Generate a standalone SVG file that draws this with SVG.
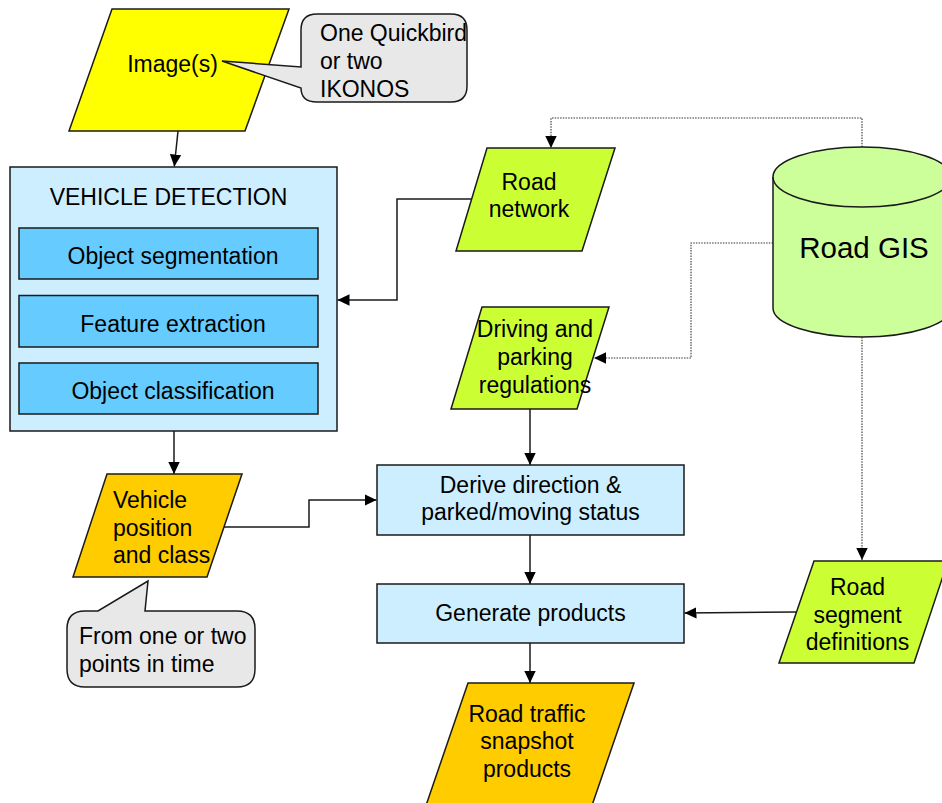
<svg xmlns="http://www.w3.org/2000/svg" width="942" height="803" viewBox="0 0 942 803">
  <style>
    .shape { stroke: #1a1a1a; stroke-width: 1.5; }
    .txt { font-family: "Liberation Sans", Arial, sans-serif; font-size: 23px; fill: #000; }
    .mid { text-anchor: middle; }
    .wire { fill: none; stroke: #1a1a1a; stroke-width: 1.5; }
    .dot { fill: none; stroke: #333; stroke-width: 1.1; stroke-dasharray: 1.5 1.2; }
    .yellow { fill: #ffff00; }
    .pale { fill: #cceeff; }
    .blue { fill: #66ccff; }
    .orange { fill: #ffcc00; }
    .lime { fill: #ccff33; }
    .gis { fill: #ccff99; }
    .note { fill: #e8e8e8; }
  </style>
  <defs>
    <marker id="arrow" viewBox="0 0 12 12" markerUnits="userSpaceOnUse" markerWidth="12" markerHeight="12" refX="12" refY="6" orient="auto">
      <path d="M0,0.3 L12,6 L0,11.7 Z" fill="#000"/>
    </marker>
  </defs>

  <rect width="942" height="803" fill="#ffffff"/>

  <!-- connectors -->
  <g id="connectors">
    <line class="wire" x1="178" y1="131" x2="174.3" y2="166.5" marker-end="url(#arrow)"/>
    <polyline class="wire" points="471,199 397,199 397,300 337.5,300" marker-end="url(#arrow)"/>
    <line class="wire" x1="174" y1="431" x2="174" y2="474" marker-end="url(#arrow)"/>
    <polyline class="wire" points="224,527 309,527 309,500 376.5,500" marker-end="url(#arrow)"/>
    <line class="wire" x1="530" y1="409" x2="530" y2="465" marker-end="url(#arrow)"/>
    <line class="wire" x1="530" y1="535" x2="530" y2="584" marker-end="url(#arrow)"/>
    <line class="wire" x1="530" y1="643" x2="530" y2="683" marker-end="url(#arrow)"/>
    <line class="wire" x1="796" y1="612" x2="684.5" y2="613" marker-end="url(#arrow)"/>
    <polyline class="dot" points="862,147 862,118 551,118 551,148" marker-end="url(#arrow)"/>
    <polyline class="dot" points="773,243 691,243 691,358 594,358" marker-end="url(#arrow)"/>
    <line class="dot" x1="862" y1="337" x2="862" y2="560" marker-end="url(#arrow)"/>
  </g>

  <!-- input imagery -->
  <g id="images">
    <polygon class="shape yellow" points="112,9 289,9 245,131 69,131"/>
    <text class="txt mid" x="172.5" y="72">Image(s)</text>
  </g>

  <g id="note-sensors">
    <path class="shape note" d="M317,14 H451 Q467,14 467,30 V86 Q467,102 451,102 H317 Q301,102 301,88 L222,61 L301,67 V30 Q301,14 317,14 Z"/>
    <text class="txt" x="320" y="41">One Quickbird</text>
    <text class="txt" x="320" y="69">or two</text>
    <text class="txt" x="320" y="97">IKONOS</text>
  </g>

  <!-- detection stage -->
  <g id="vehicle-detection">
    <rect class="shape pale" x="10" y="167" width="327" height="264"/>
    <text class="txt mid" x="168.5" y="205">VEHICLE DETECTION</text>
  </g>
  <g id="object-segmentation">
    <rect class="shape blue" x="19" y="228" width="299" height="51"/>
    <text class="txt mid" x="173" y="264">Object segmentation</text>
  </g>
  <g id="feature-extraction">
    <rect class="shape blue" x="19" y="295.5" width="299" height="51.5"/>
    <text class="txt mid" x="173" y="332">Feature extraction</text>
  </g>
  <g id="object-classification">
    <rect class="shape blue" x="19" y="363" width="299" height="51"/>
    <text class="txt mid" x="173" y="399">Object classification</text>
  </g>

  <g id="vehicle-position">
    <polygon class="shape orange" points="107,474 242,474 207,577 73,577"/>
    <text class="txt" x="113" y="508">Vehicle</text>
    <text class="txt" x="113" y="536">position</text>
    <text class="txt" x="113" y="563">and class</text>
  </g>

  <g id="note-times">
    <path class="shape note" d="M85,611 H98 L148,581 L145,611 H237 Q255,611 255,629 V669 Q255,687 237,687 H85 Q67,687 67,669 V629 Q67,611 85,611 Z"/>
    <text class="txt" x="79" y="644">From one or two</text>
    <text class="txt" x="79" y="672">points in time</text>
  </g>

  <!-- road data -->
  <g id="road-network">
    <polygon class="shape lime" points="487,148 615,148 582,251 456,251"/>
    <text class="txt mid" x="529" y="190">Road</text>
    <text class="txt mid" x="529" y="217">network</text>
  </g>

  <g id="road-gis">
    <path class="shape gis" d="M773,177 V308 A89,29 0 0 0 951,308 V177 A89,30 0 0 0 773,177 Z"/>
    <path class="shape" fill="none" d="M773,177 A89,30 0 0 0 951,177"/>
    <text class="txt mid" x="864" y="258" style="font-size:29.5px">Road GIS</text>
  </g>

  <g id="driving-regulations">
    <polygon class="shape lime" points="482,307 609,307 577,409 451,409"/>
    <text class="txt mid" x="535" y="337">Driving and</text>
    <text class="txt mid" x="535" y="365">parking</text>
    <text class="txt mid" x="535" y="393">regulations</text>
  </g>

  <!-- processing -->
  <g id="derive-status">
    <rect class="shape pale" x="377" y="465" width="307" height="70"/>
    <text class="txt mid" x="530.5" y="493">Derive direction &amp;</text>
    <text class="txt mid" x="530.5" y="520">parked/moving status</text>
  </g>

  <g id="generate-products">
    <rect class="shape pale" x="377" y="584" width="307" height="59"/>
    <text class="txt mid" x="530.5" y="621">Generate products</text>
  </g>

  <g id="road-segments">
    <polygon class="shape lime" points="814,561 948,561 914,663 779,663"/>
    <text class="txt mid" x="857.5" y="595">Road</text>
    <text class="txt mid" x="857.5" y="623">segment</text>
    <text class="txt mid" x="857.5" y="650">definitions</text>
  </g>

  <g id="traffic-products">
    <polygon class="shape orange" points="468,683 634,683 587,820 421,820"/>
    <text class="txt mid" x="527" y="722">Road traffic</text>
    <text class="txt mid" x="527" y="749">snapshot</text>
    <text class="txt mid" x="527" y="777">products</text>
  </g>
</svg>
